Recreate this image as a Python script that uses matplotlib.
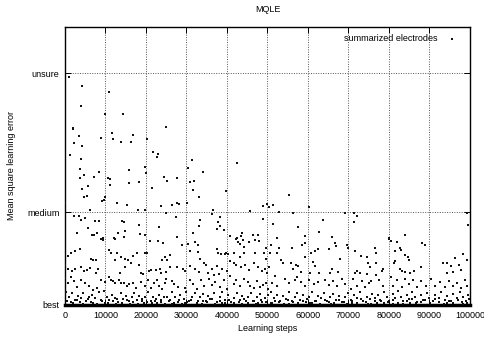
import matplotlib
matplotlib.use("Agg")
import matplotlib.pyplot as plt

plt.rcParams['font.family'] = ['Liberation Sans', 'DejaVu Sans']

# error values for the y tick names
tick_vals = [0.0, 0.2, 0.5]
tick_names = ["best", "medium", "unsure"]
x_ticks = [0, 10000, 20000, 30000, 40000, 50000, 60000, 70000, 80000, 90000, 100000]

# (learning step, mean square error), grouped by region
upper = [
    (988, 0.492), (4199, 0.473), (3878, 0.430), (10794, 0.459), (14326, 0.413),
    (1902, 0.382), (2223, 0.349), (3384, 0.365), (4273, 0.342), (1235, 0.323),
    (3952, 0.315), (8818, 0.360), (11609, 0.372), (11930, 0.359), (13832, 0.351),
    (16228, 0.351), (16796, 0.367), (24947, 0.385), (21736, 0.330), (22724, 0.320),
    (22897, 0.325), (31443, 0.312), (30455, 0.295), (34160, 0.287), (42410, 0.306),
    (15734, 0.291), (19760, 0.298), (20081, 0.284), (3779, 0.293), (4693, 0.280),
    (3779, 0.274), (8472, 0.286), (7163, 0.277), (10621, 0.274), (11115, 0.272),
    (11115, 0.259), (15734, 0.263), (18352, 0.266), (24379, 0.277), (25120, 0.267),
    (27590, 0.275), (30801, 0.266), (31937, 0.268), (21489, 0.253), (4199, 0.251),
    (5755, 0.256), (31542, 0.249), (33098, 0.233), (39767, 0.246), (4693, 0.234),
    (5508, 0.235), (9139, 0.225), (9633, 0.227), (9880, 0.232), (74, 0.219),
    (12918, 0.219), (15388, 0.216), (23712, 0.214), (26429, 0.215), (27590, 0.221),
    (28232, 0.218), (30060, 0.221), (55254, 0.238), (48906, 0.214), (49820, 0.218),
    (50314, 0.211), (51302, 0.216), (60342, 0.212), (6175, 0.204), (18105, 0.204),
    (19760, 0.204), (24947, 0.198), (36630, 0.205), (45695, 0.202), (52858, 0.201),
    (56390, 0.199), (71383, 0.198), (72050, 0.192), (9806, 0.411), (1976, 0.380),
    (20180, 0.359), (99220, 0.198), (69086, 0.199), (36309, 0.197), (38285, 0.190),
]

middle = [
    (2223, 0.191), (3458, 0.193), (3878, 0.184), (4940, 0.188), (7410, 0.182),
    (8324, 0.182), (14005, 0.182), (14573, 0.178), (18352, 0.172), (5755, 0.167),
    (2890, 0.155), (6595, 0.151), (7163, 0.150), (7830, 0.155), (9312, 0.144),
    (13017, 0.156), (14746, 0.160), (14573, 0.146), (12103, 0.144), (18525, 0.153),
    (19834, 0.151), (23218, 0.169), (27417, 0.189), (33345, 0.184), (33024, 0.171),
    (31542, 0.156), (37865, 0.178), (37618, 0.164), (39273, 0.162), (38211, 0.171),
    (27590, 0.146), (40755, 0.149), (42410, 0.144), (43645, 0.155), (43398, 0.148),
    (46510, 0.151), (47597, 0.151), (48980, 0.186), (51302, 0.175), (52290, 0.145),
    (57625, 0.169), (59280, 0.148), (63652, 0.184), (62812, 0.158), (65875, 0.146),
    (79954, 0.144), (83980, 0.151), (99615, 0.173), (71383, 0.179),
]

lower_a = [
    (8971, 0.142), (9300, 0.140), (12263, 0.142), (20987, 0.138), (22962, 0.137),
    (24279, 0.133), (741, 0.106), (1399, 0.113), (2387, 0.116), (3704, 0.120),
    (6502, 0.099), (6831, 0.096), (7654, 0.097), (10781, 0.119), (11440, 0.112),
    (12839, 0.113), (13909, 0.104), (14732, 0.099), (15555, 0.096), (16872, 0.106),
    (17695, 0.112), (19834, 0.112), (20328, 0.113), (23949, 0.097), (24772, 0.104),
    (82, 0.086), (741, 0.077), (1728, 0.074), (2551, 0.078), (4033, 0.081),
    (4691, 0.074), (5514, 0.076), (6173, 0.079), (7654, 0.070), (8148, 0.077),
    (12427, 0.096), (13662, 0.070), (14732, 0.081), (16213, 0.090), (18353, 0.086),
    (18682, 0.070), (19341, 0.067), (20657, 0.073), (21316, 0.076), (22468, 0.076),
    (23456, 0.077), (23785, 0.070), (24937, 0.072), (82, 0.058), (741, 0.047),
    (1564, 0.061), (2222, 0.051), (3045, 0.038), (3868, 0.053), (4856, 0.048),
    (6008, 0.041), (6831, 0.032), (7983, 0.036), (8806, 0.054), (9794, 0.050),
    (10781, 0.061), (11275, 0.054), (11934, 0.051), (12427, 0.047), (13250, 0.054),
    (13909, 0.047), (14567, 0.048), (15390, 0.040), (15884, 0.045), (16707, 0.047),
    (17530, 0.036), (18682, 0.050), (19670, 0.042), (20493, 0.053), (21151, 0.037),
    (21974, 0.047), (22797, 0.053), (23126, 0.041), (23949, 0.035), (24772, 0.048),
    (247, 0.027), (1070, 0.017), (1728, 0.025), (2551, 0.011), (3210, 0.019),
    (4033, 0.014), (4527, 0.025), (5185, 0.009), (6008, 0.017), (6666, 0.022),
    (7489, 0.014), (8312, 0.028), (8971, 0.011), (9629, 0.030), (10288, 0.017),
    (10946, 0.011), (11604, 0.022), (12263, 0.015), (13086, 0.006), (13744, 0.025),
    (14403, 0.012), (15061, 0.019), (15719, 0.009), (16542, 0.017), (17036, 0.025),
    (17695, 0.011), (18353, 0.019), (19011, 0.008), (19834, 0.017), (20493, 0.027),
    (21151, 0.009), (21810, 0.018), (22468, 0.012), (23126, 0.022), (23785, 0.011),
    (24443, 0.017), (412, 0.008), (2058, 0.004), (3704, 0.006), (6996, 0.005),
    (9958, 0.005), (12592, 0.002), (16049, 0.002), (19505, 0.004), (22797, 0.004),
]

lower_b = [
    (42312, 0.142), (42806, 0.136), (43300, 0.132), (43958, 0.140), (45440, 0.136),
    (46921, 0.140), (47909, 0.139), (44287, 0.125), (49719, 0.123), (28980, 0.129),
    (30461, 0.132), (32107, 0.136), (32930, 0.130), (26017, 0.107), (30955, 0.116),
    (32930, 0.114), (33259, 0.099), (37539, 0.120), (37703, 0.112), (38526, 0.110),
    (39843, 0.113), (40172, 0.110), (44287, 0.113), (41654, 0.113), (43300, 0.104),
    (46921, 0.112), (49225, 0.112), (49719, 0.100), (39514, 0.109), (25194, 0.096),
    (25852, 0.083), (27663, 0.081), (29144, 0.078), (29638, 0.073), (30790, 0.084),
    (32107, 0.077), (33095, 0.071), (34247, 0.090), (34905, 0.087), (36222, 0.078),
    (37539, 0.084), (38691, 0.077), (40008, 0.074), (40831, 0.094), (41818, 0.091),
    (42312, 0.087), (43464, 0.083), (44452, 0.087), (45440, 0.076), (46592, 0.090),
    (47744, 0.083), (48567, 0.074), (49390, 0.077), (49884, 0.070), (36880, 0.064),
    (38033, 0.066), (35399, 0.070), (25029, 0.057), (26346, 0.051), (27004, 0.045),
    (27992, 0.038), (29638, 0.037), (30955, 0.054), (31613, 0.045), (32601, 0.035),
    (33588, 0.053), (34411, 0.041), (35564, 0.055), (36222, 0.044), (37045, 0.050),
    (38197, 0.038), (39185, 0.054), (40008, 0.035), (40831, 0.063), (41654, 0.045),
    (42312, 0.054), (43135, 0.042), (44123, 0.057), (45110, 0.050), (45769, 0.040),
    (46592, 0.037), (47415, 0.051), (48238, 0.038), (48896, 0.044), (49719, 0.048),
    (50213, 0.035), (25194, 0.017), (25852, 0.011), (26511, 0.027), (27169, 0.017),
    (27827, 0.006), (28486, 0.022), (29309, 0.012), (29967, 0.027), (30626, 0.009),
    (31449, 0.018), (32107, 0.025), (32765, 0.008), (33424, 0.017), (34082, 0.024),
    (34741, 0.009), (35399, 0.019), (36222, 0.012), (36880, 0.025), (37539, 0.006),
    (38197, 0.017), (38856, 0.027), (39514, 0.011), (40337, 0.021), (40995, 0.006),
    (41654, 0.015), (42477, 0.025), (43135, 0.011), (43794, 0.019), (44617, 0.008),
    (45275, 0.017), (45933, 0.025), (46756, 0.009), (47415, 0.017), (48073, 0.024),
    (48732, 0.006), (49390, 0.015), (50048, 0.022), (26346, 0.002), (29638, 0.004),
    (33753, 0.002), (38691, 0.004), (43629, 0.002), (47744, 0.004),
]

lower_c = [
    (50963, 0.129), (52938, 0.123), (52444, 0.113), (58535, 0.129), (59358, 0.133),
    (66600, 0.133), (66929, 0.127), (69563, 0.130), (56066, 0.122), (50634, 0.112),
    (60674, 0.112), (61662, 0.117), (62485, 0.120), (65283, 0.120), (71703, 0.116),
    (73184, 0.106), (74665, 0.103), (53432, 0.096), (53926, 0.091), (55901, 0.090),
    (57053, 0.087), (57547, 0.084), (59358, 0.104), (61333, 0.093), (61662, 0.084),
    (67917, 0.100), (69892, 0.122), (74830, 0.090), (50469, 0.081), (56395, 0.077),
    (58205, 0.071), (60510, 0.070), (62650, 0.070), (65448, 0.068), (65941, 0.077),
    (67423, 0.071), (71703, 0.068), (72197, 0.074), (72855, 0.068), (74501, 0.066),
    (75324, 0.083), (51951, 0.063), (51128, 0.048), (52444, 0.042), (54255, 0.057),
    (55407, 0.047), (56724, 0.053), (57218, 0.060), (58370, 0.050), (59358, 0.040),
    (60345, 0.054), (61497, 0.045), (62485, 0.050), (64295, 0.054), (65118, 0.044),
    (66271, 0.051), (67258, 0.041), (68411, 0.057), (69234, 0.045), (70551, 0.035),
    (71209, 0.057), (72197, 0.042), (73349, 0.051), (74172, 0.038), (75159, 0.047),
    (50798, 0.028), (51621, 0.015), (52444, 0.022), (53103, 0.009), (53926, 0.019),
    (54584, 0.012), (55243, 0.027), (56066, 0.008), (56724, 0.018), (57382, 0.025),
    (58041, 0.011), (58699, 0.021), (59522, 0.006), (60181, 0.017), (61004, 0.027),
    (61662, 0.009), (62485, 0.019), (63143, 0.014), (63966, 0.025), (64625, 0.008),
    (65448, 0.017), (66106, 0.024), (66929, 0.011), (67588, 0.019), (68411, 0.006),
    (69069, 0.017), (69892, 0.025), (70715, 0.011), (71373, 0.021), (72197, 0.014),
    (72855, 0.027), (73678, 0.009), (74501, 0.018), (75324, 0.012), (51128, 0.004),
    (55407, 0.002), (60510, 0.004), (65777, 0.002), (70880, 0.004), (74830, 0.002),
]

lower_d = [
    (76652, 0.122), (76816, 0.112), (79944, 0.142), (80438, 0.138), (82083, 0.136),
    (81590, 0.117), (82742, 0.123), (83071, 0.119), (84059, 0.107), (84717, 0.103),
    (85046, 0.096), (88174, 0.133), (88997, 0.129), (76816, 0.090), (78298, 0.074),
    (78627, 0.078), (81261, 0.091), (81590, 0.094), (82742, 0.078), (83236, 0.074),
    (84059, 0.071), (85211, 0.070), (86199, 0.074), (87845, 0.081), (93276, 0.091),
    (94429, 0.090), (96404, 0.102), (98214, 0.110), (95252, 0.084), (97392, 0.087),
    (97721, 0.076), (94264, 0.068), (95910, 0.071), (99368, 0.096), (75664, 0.051),
    (76816, 0.064), (77475, 0.054), (78627, 0.041), (80438, 0.061), (81096, 0.042),
    (82083, 0.053), (83236, 0.038), (84059, 0.055), (85046, 0.045), (86034, 0.053),
    (87023, 0.038), (88010, 0.051), (89161, 0.041), (90478, 0.055), (91466, 0.042),
    (92618, 0.050), (93770, 0.038), (94758, 0.051), (95910, 0.042), (96899, 0.047),
    (97886, 0.037), (98708, 0.053), (99368, 0.041), (75829, 0.024), (76487, 0.014),
    (77310, 0.021), (77968, 0.009), (78791, 0.027), (79450, 0.017), (80108, 0.008),
    (80931, 0.024), (81590, 0.014), (82248, 0.030), (82907, 0.017), (83565, 0.009),
    (84388, 0.022), (85046, 0.012), (85705, 0.027), (86363, 0.017), (87022, 0.006),
    (87845, 0.021), (88503, 0.011), (89326, 0.025), (89984, 0.015), (90808, 0.008),
    (91466, 0.022), (92289, 0.014), (92947, 0.027), (93770, 0.011), (94429, 0.019),
    (95252, 0.008), (95910, 0.024), (96733, 0.014), (97556, 0.028), (98214, 0.017),
    (99038, 0.009), (99532, 0.021), (76981, 0.004), (81096, 0.002), (85211, 0.004),
    (90149, 0.002), (94264, 0.004), (98379, 0.002),
]

# the crowd sitting just above "best"
floor = [
    (1480, 0.006), (2930, 0.010), (4420, 0.003), (5630, 0.012), (6350, 0.007),
    (7920, 0.003), (9150, 0.008), (10550, 0.004), (11890, 0.009), (12930, 0.013),
    (14150, 0.005), (15320, 0.010), (16780, 0.006), (17920, 0.003), (19020, 0.012),
    (20240, 0.007), (21540, 0.004), (22280, 0.009), (23640, 0.006), (24610, 0.003),
    (25710, 0.008), (26980, 0.005), (28210, 0.011), (28920, 0.003), (30140, 0.006),
    (31120, 0.010), (32490, 0.004), (33980, 0.008), (35020, 0.006), (35880, 0.012),
    (37110, 0.003), (38350, 0.009), (39620, 0.005), (40570, 0.010), (41830, 0.004),
    (42960, 0.007), (44210, 0.012), (45090, 0.005), (46340, 0.008), (47260, 0.003),
    (48510, 0.010), (49560, 0.006), (50780, 0.004), (51840, 0.009), (52960, 0.006),
    (54120, 0.003), (55080, 0.011), (56250, 0.007), (57470, 0.004), (58720, 0.009),
    (59860, 0.012), (60880, 0.005), (61920, 0.008), (63040, 0.003), (64290, 0.010),
    (65250, 0.006), (66480, 0.004), (67630, 0.011), (68840, 0.007), (69720, 0.003),
    (70920, 0.009), (72040, 0.005), (73130, 0.012), (74290, 0.006), (75480, 0.003),
    (76520, 0.008), (77740, 0.011), (78860, 0.004), (79880, 0.007), (80990, 0.010),
    (82130, 0.005), (83380, 0.003), (84460, 0.008), (85580, 0.012), (86720, 0.004),
    (87960, 0.007), (89020, 0.010), (90190, 0.005), (91360, 0.012), (92420, 0.006),
    (93580, 0.003), (94720, 0.009), (95830, 0.005), (96940, 0.011), (98030, 0.006),
    (99160, 0.004), (99720, 0.012),
]

points = upper + middle + lower_a + lower_b + lower_c + lower_d + floor
steps = [p[0] for p in points]
errors = [p[1] for p in points]

fig = plt.figure(figsize=(4.85, 3.4), dpi=100)
ax = fig.add_axes([0.134, 0.103, 0.835, 0.818])

ax.scatter(steps, errors, s=0.7, marker='s', c='#111111', linewidths=0,
           label="summarized electrodes", zorder=3)

ax.set_xlim(0, 100000)
ax.set_ylim(0, 0.6)
ax.set_xticks(x_ticks)
ax.set_yticks(tick_vals)
ax.set_yticklabels(tick_names)

# gnuplot look: dotted grid, inward ticks mirrored on all sides
ax.grid(True, color='#555555', linestyle=(0, (1, 1.5)), linewidth=0.7)
ax.tick_params(direction='in', length=4, width=0.7, top=True, right=True,
               labelsize=6.5, pad=4)
for side in ['top', 'right', 'left']:
    ax.spines[side].set_linewidth(1.0)
ax.spines['bottom'].set_linewidth(2.5)

ax.set_title("MQLE", fontsize=6.5, pad=11)
ax.set_xlabel("Learning steps", fontsize=6.5, labelpad=3)
ax.set_ylabel("Mean square learning error", fontsize=6.5, labelpad=8)

ax.legend(loc='upper right', frameon=False, fontsize=6.5, markerfirst=False,
          handlelength=1.5, borderaxespad=0.4, markerscale=1.2,
          bbox_to_anchor=(0.99, 1.0))

fig.savefig("out.png", dpi=100)
